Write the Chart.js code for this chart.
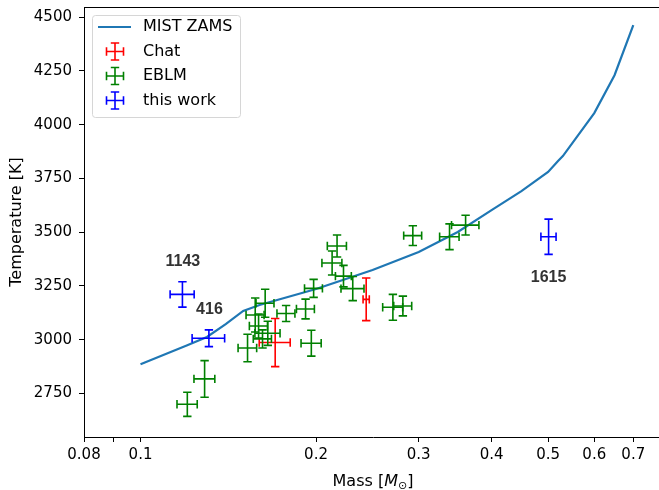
<!DOCTYPE html>
<html>
<head>
<meta charset="utf-8">
<script src="https://cdn.jsdelivr.net/npm/chart.js@4.4.0/dist/chart.umd.min.js"></script>
<style>
  html, body { margin: 0; padding: 0; background: #fff; overflow: hidden; }
</style>
</head>
<body>
<canvas id="massTeff" width="662" height="490"></canvas>
<script>
// MIST ZAMS track
const zamsMass = [0.1, 0.12, 0.13, 0.14, 0.15, 0.16, 0.2, 0.25, 0.3, 0.35, 0.4, 0.45, 0.5, 0.52, 0.53, 0.6, 0.65, 0.7];
const zamsTeff = [2886, 2973, 3013, 3073, 3134, 3162, 3236, 3324, 3408, 3501, 3603, 3691, 3780, 3831, 3854, 4054, 4230, 4463];

// Chat
const chatMass = [0.1702, 0.2438];
const chatMassErr = [0.0104, 0.003];
const chatTeff = [2987, 3188];
const chatTeffErr = [112, 99];

// EBLM
const eblmMass = [0.1203, 0.1288, 0.1526, 0.1573, 0.1594, 0.1619, 0.1636, 0.1653, 0.1777, 0.1919, 0.1963, 0.1981, 0.2173, 0.2131, 0.2229, 0.2312, 0.2709, 0.2818, 0.2931, 0.3388, 0.3610];
const eblmMassErr = [0.0048, 0.0053, 0.0056, 0.0056, 0.0057, 0.0058, 0.0058, 0.0082, 0.0063, 0.0068, 0.0078, 0.0070, 0.0082, 0.0084, 0.0070, 0.0105, 0.0107, 0.0100, 0.0104, 0.0130, 0.0195];
const eblmTeff = [2700, 2818, 2962, 3115, 3064, 3004, 3170, 3030, 3122, 3143, 2984, 3239, 3436, 3357, 3296, 3238, 3151, 3157, 3484, 3479, 3533];
const eblmTeffErr = [56, 85, 64, 79, 56, 42, 65, 56, 37, 46, 60, 42, 51, 56, 50, 56, 60, 46, 46, 60, 46];

// this work
const workNames = ["1143", "416", "1615"];
const workMass = [0.1180, 0.1310, 0.501];
const workMassErr = [0.0056, 0.0084, 0.015];
const workTeff = [3211, 3007, 3479];
const workTeffErr = [59, 39, 82];
const nameMass = [0.1182, 0.1313, 0.501];
const nameTeff = [3363, 3139, 3287];

const xTicks = [0.08, 0.09, 0.1, 0.2, 0.3, 0.4, 0.5, 0.6, 0.7];
const xTickLabels = ["0.08", "", "0.1", "0.2", "0.3", "0.4", "0.5", "0.6", "0.7"];
const yTicks = [2750, 3000, 3250, 3500, 3750, 4000, 4250, 4500];

const pts = (xs, ys) => xs.map((v, i) => ({ x: v, y: ys[i] }));

Chart.defaults.font.family = '"DejaVu Sans"';
Chart.defaults.color = '#000';

const CAP = 4.2;

function drawCross(ctx, x, y, m, t, dm, dt) {
  const x0 = x.getPixelForValue(m - dm), x1 = x.getPixelForValue(m + dm);
  const y0 = y.getPixelForValue(t - dt), y1 = y.getPixelForValue(t + dt);
  const cx = x.getPixelForValue(m), cy = y.getPixelForValue(t);
  ctx.beginPath();
  ctx.moveTo(x0, cy); ctx.lineTo(x1, cy);
  ctx.moveTo(cx, y0); ctx.lineTo(cx, y1);
  ctx.moveTo(x0, cy - CAP); ctx.lineTo(x0, cy + CAP);
  ctx.moveTo(x1, cy - CAP); ctx.lineTo(x1, cy + CAP);
  ctx.moveTo(cx - CAP, y0); ctx.lineTo(cx + CAP, y0);
  ctx.moveTo(cx - CAP, y1); ctx.lineTo(cx + CAP, y1);
  ctx.stroke();
}

const errorBars = {
  id: 'errorBars',
  afterDatasetsDraw(chart) {
    const { ctx, chartArea, scales: { x, y } } = chart;
    ctx.save();
    ctx.beginPath();
    ctx.rect(chartArea.left, chartArea.top, chartArea.width, chartArea.height);
    ctx.clip();
    ctx.lineWidth = 1.6;
    chart.data.datasets.forEach(ds => {
      if (!ds.errX) return;
      ctx.strokeStyle = ds.borderColor;
      ds.data.forEach((p, i) => drawCross(ctx, x, y, p.x, p.y, ds.errX[i], ds.errY[i]));
    });
    // star names
    ctx.fillStyle = '#333';
    ctx.font = 'bold 16px "Liberation Sans Narrow", "Liberation Sans", sans-serif';
    ctx.textAlign = 'center';
    ctx.textBaseline = 'middle';
    workNames.forEach((n, i) => {
      ctx.fillText(n, x.getPixelForValue(nameMass[i]), y.getPixelForValue(nameTeff[i]));
    });
    ctx.restore();
  }
};

const frame = {
  id: 'frame',
  afterDraw(chart) {
    const { ctx, chartArea } = chart;
    ctx.save();
    // top spine
    ctx.strokeStyle = '#000';
    ctx.lineWidth = 1;
    ctx.beginPath();
    ctx.moveTo(chartArea.left, chartArea.top + 0.5);
    ctx.lineTo(chartArea.right, chartArea.top + 0.5);
    ctx.stroke();

    // x title: Mass [M_sun]
    const parts = [
      { t: 'Mass [', f: '16px "DejaVu Sans"', dy: 0 },
      { t: 'M', f: 'italic 16px "DejaVu Sans"', dy: 0 },
      { t: '\u2299', f: '11px "DejaVu Sans"', dy: 3 },
      { t: ']', f: '16px "DejaVu Sans"', dy: 0 }
    ];
    let w = 0;
    parts.forEach(p => { ctx.font = p.f; w += ctx.measureText(p.t).width; });
    let px = (chartArea.left + chartArea.right) / 2 - w / 2;
    const base = 486;
    ctx.fillStyle = '#000';
    ctx.textBaseline = 'alphabetic';
    ctx.textAlign = 'left';
    parts.forEach(p => {
      ctx.font = p.f;
      ctx.fillText(p.t, px, base + p.dy);
      px += ctx.measureText(p.t).width;
    });

    // legend
    const bx = chartArea.left + 8, by = chartArea.top + 8, bw = 148, bh = 102;
    ctx.fillStyle = 'rgba(255,255,255,0.8)';
    ctx.strokeStyle = '#d6d6d6';
    ctx.beginPath();
    ctx.roundRect(bx + 0.5, by + 0.5, bw, bh, 3);
    ctx.fill();
    ctx.stroke();
    const rows = chart.data.datasets;
    ctx.font = '16px "DejaVu Sans"';
    ctx.textBaseline = 'middle';
    rows.forEach((ds, i) => {
      const ry = by + 12 + i * 24.5;
      const hx = bx + 23;
      if (!ds.errX) {
        ctx.strokeStyle = ds.borderColor;
        ctx.lineWidth = 2.2;
        ctx.beginPath();
        ctx.moveTo(bx + 6, ry); ctx.lineTo(bx + 39, ry);
        ctx.stroke();
      } else {
        ctx.strokeStyle = ds.borderColor;
        ctx.lineWidth = 1.6;
        ctx.beginPath();
        ctx.moveTo(hx - 8.5, ry); ctx.lineTo(hx + 8.5, ry);
        ctx.moveTo(hx, ry - 8.5); ctx.lineTo(hx, ry + 8.5);
        ctx.moveTo(hx - 8.5, ry - CAP); ctx.lineTo(hx - 8.5, ry + CAP);
        ctx.moveTo(hx + 8.5, ry - CAP); ctx.lineTo(hx + 8.5, ry + CAP);
        ctx.moveTo(hx - CAP, ry - 8.5); ctx.lineTo(hx + CAP, ry - 8.5);
        ctx.moveTo(hx - CAP, ry + 8.5); ctx.lineTo(hx + CAP, ry + 8.5);
        ctx.stroke();
      }
      ctx.fillStyle = '#000';
      ctx.fillText(ds.label, bx + 51, ry);
    });
    ctx.restore();
  }
};

new Chart(document.getElementById('massTeff'), {
  type: 'scatter',
  data: {
    datasets: [
      {
        label: 'MIST ZAMS',
        type: 'line',
        data: pts(zamsMass, zamsTeff),
        borderColor: '#1f77b4',
        borderWidth: 2.2,
        pointRadius: 0,
        fill: false,
        tension: 0
      },
      {
        label: 'Chat',
        data: pts(chatMass, chatTeff),
        errX: chatMassErr,
        errY: chatTeffErr,
        borderColor: '#ff0000',
        pointRadius: 0
      },
      {
        label: 'EBLM',
        data: pts(eblmMass, eblmTeff),
        errX: eblmMassErr,
        errY: eblmTeffErr,
        borderColor: '#008000',
        pointRadius: 0
      },
      {
        label: 'this work',
        data: pts(workMass, workTeff),
        errX: workMassErr,
        errY: workTeffErr,
        borderColor: '#0000ff',
        pointRadius: 0
      }
    ]
  },
  options: {
    responsive: false,
    animation: false,
    devicePixelRatio: 1,
    layout: { padding: { top: 7, left: 0, right: 0, bottom: 0 } },
    plugins: {
      legend: { display: false },
      tooltip: { enabled: false }
    },
    scales: {
      x: {
        type: 'logarithmic',
        min: 0.08,
        max: 0.784,
        afterBuildTicks: s => { s.ticks = xTicks.map(v => ({ value: v })); },
        afterFit: s => { s.height = 53; s.paddingLeft = 0; s.paddingRight = 0; },
        ticks: {
          autoSkip: false,
          maxRotation: 0,
          padding: 4,
          font: { size: 15 },
          color: '#000',
          callback: (v, i) => xTickLabels[i]
        },
        grid: { drawOnChartArea: false, drawTicks: true, tickLength: 5, color: '#000' },
        border: { color: '#000', width: 1 }
      },
      y: {
        min: 2548,
        max: 4547,
        afterBuildTicks: s => { s.ticks = yTicks.map(v => ({ value: v })); },
        afterFit: s => { s.width = 84; s.paddingTop = 0; s.paddingBottom = 0; },
        ticks: {
          padding: 7,
          font: { size: 15 },
          color: '#000',
          callback: v => String(v)
        },
        title: {
          display: true,
          text: 'Temperature [K]',
          font: { size: 16 },
          color: '#000',
          padding: { top: 7, bottom: 0 }
        },
        grid: { drawOnChartArea: false, drawTicks: true, tickLength: 5, color: '#000' },
        border: { color: '#000', width: 1 }
      }
    }
  },
  plugins: [errorBars, frame]
});
</script>
</body>
</html>
